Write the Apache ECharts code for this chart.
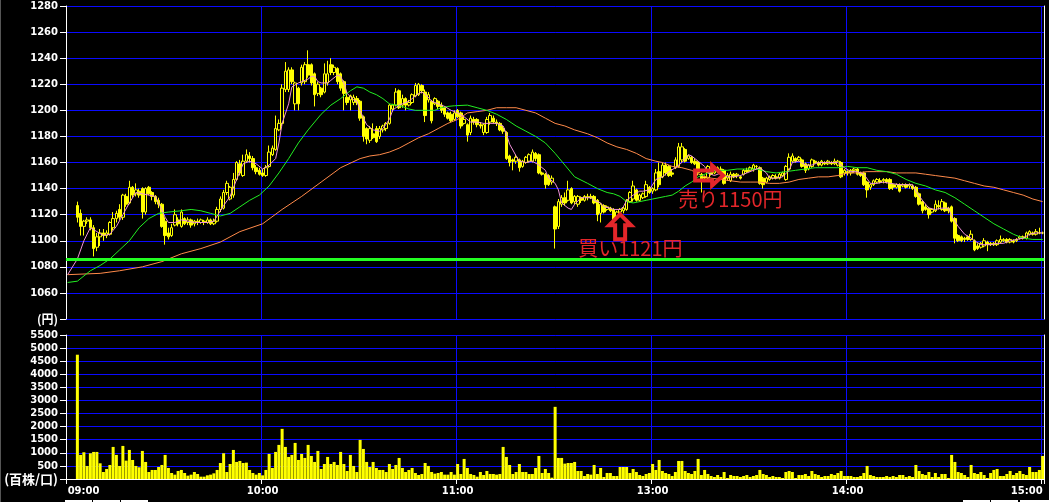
<!DOCTYPE html>
<html><head><meta charset="utf-8">
<script src="https://cdn.jsdelivr.net/npm/echarts@6/dist/echarts.min.js"></script>
<style>html,body{margin:0;padding:0;background:#000;overflow:hidden}#c{width:1049px;height:502px}</style>
</head><body><div id="c"></div>
<script>
// ---- tick labels / axis values ----
const tickLabels = ['09:00','10:00','11:00','13:00','14:00','15:00'];
const priceMin = 1040, priceMax = 1280, priceStep = 20;
const volMax = 5500, volStep = 500;
const baseLine = 1085.5;          // green horizontal line
const buyPoint = {idx: 170, price: 1121, text: '買い1121円'};
const sellPoint = {idx: 202, price: 1150, text: '売り1150円'};

// ---- categories: 1-minute slots, 09:00-11:29 and 12:30-15:00 ----
function hm(m){const h=Math.floor(m/60),mm=m%60;return (h<10?'0':'')+h+':'+(mm<10?'0':'')+mm;}
const categories = [];
for (let m = 540; m < 690; m++) categories.push(hm(m));
for (let m = 750; m <= 900; m++) categories.push(hm(m));

// ---- candles [open, close, low, high] ----
const ohlc = [
null,null,null,
[1127,1118,1114,1130],[1121,1111,1104,1124],[1111,1115,1104,1116],[1115,1116,1113,1118],[1116,1110,1108,1118],
[1110,1094,1088,1112],[1095,1103,1092,1106],[1103,1106,1096,1109],[1106,1104,1100,1109],[1104,1106,1102,1108],
[1105,1114,1104,1115],[1110,1117,1108,1122],[1117,1121,1114,1123],[1124,1118,1116,1128],[1118,1135,1116,1136],
[1134,1128,1126,1136],[1129,1141,1128,1146],[1141,1135,1133,1142],[1136,1139,1134,1144],[1138,1135,1133,1140],
[1140,1122,1117,1141],[1122,1140,1120,1141],[1141,1136,1135,1142],[1137,1134,1131,1138],[1134,1130,1128,1135],
[1131,1128,1125,1133],[1128,1111,1110,1129],[1115,1104,1097,1118],[1106,1103,1101,1110],[1104,1110,1103,1113],
[1112,1120,1111,1124],[1116,1113,1111,1118],[1111,1122,1110,1124],[1117,1113,1112,1118],[1114,1116,1112,1118],
[1116,1112,1110,1117],[1113,1115,1111,1116],[1115,1114,1112,1117],[1114,1116,1113,1117],[1115,1114,1112,1116],
[1114,1116,1113,1118],[1116,1113,1112,1117],[1113,1115,1112,1117],[1115,1124,1114,1126],[1124,1132,1122,1134],
[1125,1137,1124,1139],[1137,1144,1135,1146],[1132,1141,1131,1142],[1135,1147,1133,1152],[1147,1160,1146,1161],
[1159,1152,1150,1162],[1150,1161,1149,1166],[1161,1166,1160,1170],[1165,1163,1160,1168],[1163,1156,1154,1165],
[1156,1153,1151,1158],[1154,1151,1150,1156],[1152,1150,1149,1155],[1150,1156,1149,1158],[1157,1168,1156,1173],
[1166,1171,1165,1173],[1170,1186,1169,1196],[1185,1190,1184,1193],[1190,1217,1188,1220],[1216,1230,1214,1237],
[1216,1231,1214,1233],[1231,1222,1220,1233],[1205,1221,1200,1222],[1217,1205,1200,1218],[1221,1233,1219,1235],
[1222,1235,1220,1237],[1235,1227,1225,1246],[1235,1221,1219,1236],[1228,1212,1203,1229],[1213,1220,1211,1222],
[1217,1212,1210,1218],[1214,1228,1213,1236],[1221,1228,1219,1238],[1235,1229,1227,1240],[1229,1233,1227,1235],
[1232,1222,1220,1233],[1228,1217,1215,1229],[1222,1213,1200,1223],[1210,1206,1204,1214],[1208,1211,1200,1212],
[1206,1210,1204,1212],[1209,1206,1204,1211],[1207,1194,1192,1208],[1195,1180,1176,1196],[1186,1178,1174,1187],
[1177,1186,1175,1188],[1182,1179,1178,1190],[1186,1176,1175,1188],[1180,1186,1178,1188],[1185,1188,1183,1189],
[1186,1190,1184,1191],[1190,1204,1189,1205],[1201,1204,1199,1205],[1204,1214,1203,1217],[1215,1202,1201,1216],
[1204,1209,1202,1212],[1209,1204,1200,1210],[1204,1206,1203,1208],[1206,1212,1205,1213],[1211,1219,1210,1221],
[1212,1220,1211,1221],[1219,1215,1213,1220],[1214,1196,1191,1216],[1208,1212,1206,1214],[1207,1192,1190,1208],
[1205,1209,1204,1210],[1207,1203,1201,1208],[1204,1200,1198,1206],[1202,1197,1195,1203],[1198,1194,1193,1199],
[1197,1192,1191,1199],[1193,1198,1192,1200],[1200,1195,1194,1201],[1198,1188,1186,1199],[1190,1193,1189,1195],
[1189,1181,1176,1190],[1183,1194,1181,1196],[1193,1191,1189,1195],[1193,1189,1187,1194],[1189,1188,1186,1191],
[1183,1189,1181,1190],[1183,1193,1182,1195],[1191,1196,1189,1198],[1194,1191,1190,1196],[1191,1190,1188,1193],
[1190,1185,1184,1191],[1186,1184,1182,1188],[1183,1163,1162,1184],[1165,1160,1157,1166],[1162,1161,1154,1163],
[1161,1164,1159,1166],[1162,1156,1153,1163],[1157,1161,1156,1162],[1160,1164,1159,1165],[1161,1166,1160,1167],
[1161,1168,1160,1170],[1167,1163,1161,1168],[1166,1152,1151,1167],[1152,1151,1150,1153],[1151,1143,1140,1152],
[1150,1143,1142,1151],[1145,1148,1143,1150],
[1126,1109,1094,1127],[1111,1130,1109,1132],[1128,1133,1126,1135],[1133,1129,1127,1137],[1131,1139,1130,1146],
[1140,1129,1128,1141],[1130,1134,1128,1135],[1128,1134,1126,1135],[1133,1131,1129,1134],[1131,1134,1130,1135],
[1133,1134,1131,1136],[1134,1133,1132,1136],[1134,1129,1128,1135],[1131,1120,1115,1132],[1121,1128,1114,1129],
[1127,1122,1121,1128],[1124,1126,1123,1127],[1125,1123,1122,1126],[1124,1116,1115,1125],[1118,1122,1116,1123],
[1122,1124,1120,1125],[1123,1125,1121,1126],[1124,1131,1123,1132],[1130,1137,1129,1138],[1132,1142,1130,1146],
[1139,1131,1130,1140],[1131,1135,1130,1136],[1133,1136,1132,1137],[1134,1143,1133,1146],[1141,1137,1136,1142],
[1138,1140,1136,1141],[1139,1152,1138,1155],[1153,1143,1141,1160],[1149,1158,1148,1160],[1158,1152,1150,1160],
[1157,1150,1149,1158],[1152,1151,1149,1155],[1156,1162,1155,1164],[1157,1172,1156,1175],[1162,1172,1160,1175],
[1170,1161,1160,1171],[1163,1165,1162,1166],[1164,1160,1159,1165],[1161,1159,1158,1163],[1160,1152,1150,1161],
[1151,1147,1137,1152],[1149,1148,1146,1150],[1148,1157,1147,1158],[1155,1151,1150,1156],[1152,1154,1151,1155],
[1153,1156,1152,1157],[1155,1153,1152,1157],[1154,1144,1143,1155],[1148,1150,1146,1152],[1146,1151,1145,1153],
[1151,1149,1148,1152],[1150,1151,1148,1152],[1149,1148,1147,1150],[1151,1154,1150,1155],[1154,1153,1152,1156],
[1154,1156,1153,1157],[1155,1158,1153,1159],[1157,1157,1155,1158],[1156,1144,1143,1157],[1148,1143,1140,1149],
[1145,1148,1144,1149],[1147,1149,1146,1150],[1148,1150,1147,1151],[1149,1148,1147,1151],[1148,1151,1147,1152],
[1150,1152,1149,1153],[1147,1157,1146,1158],[1155,1164,1154,1167],[1161,1165,1160,1167],[1163,1161,1160,1164],
[1162,1164,1161,1165],[1162,1157,1156,1163],[1159,1154,1152,1160],[1155,1158,1154,1159],[1157,1162,1156,1163],
[1161,1160,1159,1162],[1160,1158,1157,1161],[1158,1161,1157,1162],[1160,1159,1158,1161],[1159,1161,1158,1162],
[1160,1159,1158,1161],[1159,1161,1158,1163],[1158,1161,1157,1162],[1160,1149,1148,1161],[1152,1154,1150,1155],
[1153,1152,1150,1154],[1152,1154,1150,1155],[1154,1155,1152,1156],[1155,1151,1150,1156],[1152,1150,1149,1153],
[1152,1143,1142,1153],[1145,1139,1133,1146],[1141,1143,1139,1144],[1143,1146,1142,1147],[1145,1147,1144,1148],
[1146,1145,1144,1148],[1146,1147,1144,1148],[1147,1145,1144,1148],[1147,1140,1139,1148],[1143,1141,1139,1144],
[1141,1143,1140,1144],[1143,1138,1137,1144],[1142,1143,1141,1144],[1143,1141,1140,1144],[1142,1143,1140,1144],
[1142,1140,1139,1143],[1141,1134,1133,1142],[1136,1128,1127,1137],[1130,1123,1121,1131],[1126,1124,1123,1128],
[1125,1120,1117,1126],[1122,1124,1121,1125],[1123,1128,1122,1131],[1127,1126,1124,1131],[1124,1130,1123,1132],
[1129,1123,1122,1130],[1125,1123,1121,1126],[1126,1115,1114,1127],[1117,1102,1098,1118],[1104,1100,1099,1105],
[1103,1100,1099,1104],[1102,1101,1099,1103],[1103,1101,1100,1104],[1101,1105,1100,1108],[1100,1093,1092,1101],
[1096,1094,1093,1098],[1095,1098,1094,1099],[1096,1100,1095,1102],[1099,1097,1092,1100],[1098,1097,1096,1099],
[1097,1098,1096,1099],[1097,1100,1096,1101],[1099,1101,1098,1104],[1100,1101,1099,1102],[1101,1099,1098,1102],
[1099,1101,1098,1102],[1100,1099,1098,1101],[1100,1101,1099,1102],[1102,1103,1101,1104],[1103,1102,1101,1104],
[1102,1106,1101,1107],[1105,1107,1104,1108],[1106,1105,1104,1107],[1105,1107,1104,1109],[1106,1106,1105,1110],
[1106,1106,1105,1107]
];

// ---- volume (百株) ----
const volume = [
0,0,0,
4747,919,1021,498,983,1034,1034,600,268,383,
536,1225,919,498,1263,702,1110,727,498,447,
1072,651,268,345,345,459,536,919,421,230,
166,306,345,230,128,166,268,191,89,89,
140,166,217,345,612,983,268,574,1110,651,
689,612,625,345,230,166,230,140,345,957,
421,1034,1302,1914,1225,842,919,1378,727,957,
804,1302,880,651,1072,383,574,842,574,651,
536,1034,574,306,919,498,268,1493,1148,651,
459,651,421,345,345,268,574,383,536,804,
421,268,345,421,230,153,191,612,498,268,
204,230,268,166,166,268,166,
574,191,766,421,191,153,89,268,153,306,191,191,166,191,1225,842,536,191,268,574,268,268,191,191,421,880,230,383,230,51,
2756,
804,804,587,612,612,651,306,306,115,191,166,536,191,421,77,230,230,115,115,459,459,459,230,383,268,153,115,191,230,574,
345,727,306,230,191,115,268,689,689,306,
230,191,306,766,153,345,191,115,77,153,
77,268,38,153,115,115,77,115,153,77,
115,153,345,191,153,77,115,77,77,38,
268,306,268,38,153,153,191,115,306,191,
153,77,115,115,191,153,230,306,115,115,
115,77,77,115,230,498,153,115,77,77,
77,115,77,115,77,153,153,77,115,77,
536,306,191,153,268,77,230,77,191,191,
38,919,651,268,230,153,77,536,230,191,
268,153,38,230,345,383,115,115,191,306,
153,230,306,191,153,459,268,268,345,880
];

// ---- moving averages: [slot index, price] ----
const maShort = [[0,1074],[3,1086],[5,1100],[7,1110],[9,1107],[11,1104],[13,1105],[15,1111],[17,1120],[19,1129],[21,1137],[23,1136],[25,1135],[27,1134],[28,1129],[30,1118],[31,1114],[33,1114],[35,1116],[37,1115],[39,1114],[43,1114],[45,1115],[46,1119],[48,1127],[50,1134],[52,1147],[54,1159],[56,1161],[58,1159],[60,1155],[62,1158],[64,1163],[65,1175],[66,1190],[68,1205],[69,1218],[71,1221],[72,1222],[74,1224],[75,1226],[76,1226],[77,1222],[78,1221],[80,1221],[81,1223],[83,1227],[84,1226],[85,1221],[86,1213],[88,1208],[89,1207],[90,1200],[91,1194],[92,1189],[94,1185],[96,1184],[97,1186],[99,1193],[100,1200],[102,1204],[103,1205],[105,1207],[106,1209],[108,1213],[109,1214],[111,1210],[112,1207],[114,1205],[116,1203],[118,1200],[120,1198],[122,1195],[124,1191],[126,1191],[128,1190],[130,1190],[132,1190],[134,1188],[135,1182],[136,1174],[138,1165],[139,1161],[141,1160],[143,1161],[145,1158],[147,1154],[148,1148],[150,1144],[151,1139],[152,1129],[154,1125],[155,1124],[156,1128],[158,1133],[159,1133],[161,1133],[162,1131],[164,1129],[165,1126],[167,1125],[168,1124],[170,1124],[171,1126],[172,1131],[174,1135],[176,1138],[177,1138],[179,1139],[181,1147],[183,1149],[185,1153],[187,1156],[189,1160],[191,1166],[192,1165],[194,1161],[196,1157],[197,1152],[199,1150],[201,1152],[203,1149],[205,1149],[207,1150],[209,1152],[211,1154],[213,1156],[215,1152],[216,1148],[218,1148],[220,1149],[222,1154],[223,1160],[225,1161],[227,1158],[229,1158],[231,1160],[234,1160],[237,1160],[239,1156],[241,1153],[243,1153],[245,1151],[247,1144],[249,1144],[251,1145],[253,1144],[256,1143],[258,1143],[260,1143],[261,1138],[263,1131],[265,1125],[267,1124],[269,1125],[271,1125],[272,1119],[274,1111],[276,1105],[278,1102],[279,1100],[281,1097],[282,1097],[284,1097],[286,1098],[288,1098],[290,1100],[292,1101],[294,1102],[296,1105],[298,1106],[300,1106]];
const maMid = [[0,1068],[3,1069],[7,1077],[10,1081],[13,1086],[16,1093],[19,1100],[22,1110],[25,1117],[28,1121],[31,1122],[35,1123],[38,1124],[41,1123],[44,1121],[47,1119],[50,1121],[53,1126],[56,1131],[59,1135],[62,1142],[65,1152],[68,1163],[71,1175],[74,1185],[78,1197],[81,1204],[84,1209],[87,1215],[89,1218],[91,1217],[93,1214],[95,1212],[97,1209],[99,1205],[101,1204],[103,1203],[105,1201],[107,1200],[109,1200],[111,1200],[113,1200],[115,1202],[117,1203],[119,1203.5],[123,1204],[126,1202],[129,1200],[132,1197],[135,1193],[138,1188],[141,1184],[144,1180],[147,1175],[150,1167],[153,1158],[156,1149],[160,1144],[163,1140],[166,1137],[168,1136],[170,1134],[172,1130],[174,1129],[176,1130],[178,1131],[180,1132],[182,1133],[184,1134],[186,1135],[188,1138],[190,1142],[192,1145],[194,1149],[197,1152],[200,1154],[203,1154],[206,1155],[209,1155],[212,1155],[215,1153],[218,1152],[221,1153],[224,1154],[227,1155],[230,1156],[233,1156],[237,1156],[240,1157],[243,1156],[246,1156],[249,1154],[252,1153],[255,1151],[258,1147],[261,1144],[264,1142],[267,1139],[270,1137],[273,1133],[276,1128],[279,1123],[282,1118],[285,1113],[288,1109],[291,1105],[294,1102],[297,1101],[300,1101]];
const maLong = [[0,1074],[10,1075],[16,1077],[23,1080],[29,1084],[35,1090],[41,1094],[47,1099],[53,1107],[60,1113],[66,1124],[72,1134],[78,1145],[84,1156],[90,1163],[93,1165],[96,1166],[99,1168],[102,1171],[105,1175],[108,1179],[111,1182],[114,1186],[117,1190],[120,1193],[123,1198],[126,1199],[129,1200],[132,1202],[135,1202],[138,1202],[141,1200],[144,1198],[147,1194],[150,1190],[153,1188],[156,1185],[160,1182],[163,1179],[166,1175],[169,1172],[172,1170],[175,1167],[178,1163],[181,1161],[183,1160],[186,1157],[189,1156],[192,1154],[195,1150],[198,1148],[201,1147],[204,1146],[207,1145],[210,1145],[213,1145],[216,1144],[219,1144],[222,1145],[225,1147],[228,1148],[231,1149],[234,1149],[237,1150],[240,1152],[243,1152],[246,1153],[249,1153],[252,1153],[255,1152],[258,1152],[261,1152],[264,1151],[267,1150],[270,1149],[273,1148],[276,1146],[279,1144],[282,1142],[285,1141],[288,1139],[291,1137],[294,1135],[297,1132],[300,1130]];

// ---- chart ----
const BLUE = '#0a0aff', WHITE = '#ffffff', YEL = '#ffff00';
const isTick = (i) => tickLabels.indexOf(categories[i]) >= 0;
const lastIdx = categories.length - 1;
const catItems = categories.map((c, i) => i === 0 ? {value: c, textStyle: {align: 'left'}}
  : (i === lastIdx ? {value: c, textStyle: {align: 'right'}} : c));
const labelFont = {color: WHITE, fontFamily: 'DejaVu Sans', fontWeight: 'bold', fontSize: 10};
const PLOT_W = 978.25; // 301 slots of 3.25 px

const chart = echarts.init(document.getElementById('c'), null, {renderer: 'canvas'});
const option = {
  backgroundColor: '#000',
  animation: false,
  grid: [
    {left: 66, top: 6, width: PLOT_W, height: 313},
    {left: 66, top: 335, width: PLOT_W, height: 144}
  ],
  xAxis: [
    {type: 'category', gridIndex: 0, data: categories, boundaryGap: true,
     axisLine: {show: false}, axisTick: {show: false}, axisLabel: {show: false},
     splitLine: {show: true, interval: isTick, lineStyle: {color: BLUE, width: 1}}},
    {type: 'category', gridIndex: 1, data: catItems, boundaryGap: true,
     axisLine: {show: true, lineStyle: {color: WHITE, width: 1}},
     axisTick: {show: true, interval: isTick, length: 5, lineStyle: {color: WHITE}},
     axisLabel: Object.assign({interval: isTick, margin: 7}, labelFont),
     splitLine: {show: true, interval: isTick, lineStyle: {color: BLUE, width: 1}}}
  ],
  yAxis: [
    {type: 'value', gridIndex: 0, min: priceMin, max: priceMax, interval: priceStep,
     axisLine: {show: true, lineStyle: {color: WHITE}},
     axisTick: {show: true, length: 6, lineStyle: {color: WHITE}},
     axisLabel: Object.assign({margin: 8, formatter: v => v === priceMin ? '{u|(円)}' : String(v),
       rich: {u: {color: WHITE, fontFamily: 'Noto Sans CJK JP', fontWeight: 'bold', fontSize: 12}}}, labelFont),
     splitLine: {show: true, lineStyle: {color: BLUE, width: 1}}},
    {type: 'value', gridIndex: 1, min: 0, max: volMax, interval: volStep,
     axisLine: {show: true, lineStyle: {color: WHITE}},
     axisTick: {show: true, length: 6, lineStyle: {color: WHITE}},
     axisLabel: Object.assign({margin: 8, formatter: v => v === 0 ? '{u|(百株/口)}' : String(v),
       rich: {u: {color: WHITE, fontFamily: 'Noto Sans CJK JP', fontWeight: 'bold', fontSize: 13}}}, labelFont),
     splitLine: {show: true, lineStyle: {color: BLUE, width: 1}}},
    {type: 'value', gridIndex: 0, position: 'right', min: priceMin, max: priceMax,
     axisLine: {show: true, lineStyle: {color: WHITE}}, axisTick: {show: false}, axisLabel: {show: false}, splitLine: {show: false}},
    {type: 'value', gridIndex: 1, position: 'right', min: 0, max: volMax,
     axisLine: {show: true, lineStyle: {color: WHITE}}, axisTick: {show: false}, axisLabel: {show: false}, splitLine: {show: false}}
  ],
  series: [
    {type: 'candlestick', xAxisIndex: 0, yAxisIndex: 0, barWidth: 3,
     data: ohlc.map(d => d ? d : ['-', '-', '-', '-']),
     itemStyle: {color: '#000', color0: YEL, borderColor: YEL, borderColor0: YEL, borderColorDoji: YEL, borderWidth: 1},
     markLine: {silent: true, symbol: ['none', 'none'], label: {show: false},
       lineStyle: {color: '#22ff22', width: 3, type: 'solid'}, data: [{yAxis: baseLine}]}},
    {type: 'line', xAxisIndex: 0, yAxisIndex: 0, data: maLong, symbol: 'none',
     lineStyle: {color: '#ff8a4a', width: 1}},
    {type: 'line', xAxisIndex: 0, yAxisIndex: 0, data: maMid, symbol: 'none',
     lineStyle: {color: '#22ee22', width: 1}},
    {type: 'line', xAxisIndex: 0, yAxisIndex: 0, data: maShort, symbol: 'none',
     lineStyle: {color: '#f090d8', width: 1}},
    {type: 'bar', xAxisIndex: 1, yAxisIndex: 1, data: volume, barWidth: 3,
     itemStyle: {color: YEL}}
  ]
};
chart.setOption(option);

// ---- annotations anchored to data coordinates ----
const RED = '#e4262a';
const b = chart.convertToPixel({xAxisIndex: 0, yAxisIndex: 0}, [buyPoint.idx, buyPoint.price]);
const s = chart.convertToPixel({xAxisIndex: 0, yAxisIndex: 0}, [sellPoint.idx, sellPoint.price]);
const bx = b[0], by = b[1] + 1, sx = s[0] - 1, sy = s[1];
chart.setOption({graphic: [
  {type: 'polygon', z: 100, shape: {points: [[bx, by], [bx + 11, by + 11], [bx + 5, by + 11], [bx + 5, by + 25], [bx - 5, by + 25], [bx - 5, by + 11], [bx - 11, by + 11]]},
   style: {fill: 'none', stroke: RED, lineWidth: 4, lineJoin: 'miter'}},
  {type: 'polygon', z: 100, shape: {points: [[sx, sy], [sx - 11, sy - 10], [sx - 11, sy - 5], [sx - 28, sy - 5], [sx - 28, sy + 5], [sx - 11, sy + 5], [sx - 11, sy + 10]]},
   style: {fill: 'none', stroke: RED, lineWidth: 4, lineJoin: 'miter'}},
  {type: 'text', z: 100, style: {x: bx - 42, y: by + 34, text: buyPoint.text, fill: RED,
   font: '20px "Noto Sans CJK JP"', align: 'left', verticalAlign: 'middle'}},
  {type: 'text', z: 100, style: {x: sx - 45, y: sy + 24, text: sellPoint.text, fill: RED,
   font: '20px "Noto Sans CJK JP"', align: 'left', verticalAlign: 'middle'}},
  {type: 'rect', shape: {x: 0, y: 0, width: 1, height: 502}, style: {fill: '#555'}},
  {type: 'rect', shape: {x: 65, y: 500, width: 27, height: 2}, style: {fill: WHITE}},
  {type: 'rect', shape: {x: 93, y: 500, width: 27, height: 2}, style: {fill: WHITE}},
  {type: 'rect', shape: {x: 121, y: 500, width: 27, height: 2}, style: {fill: WHITE}},
  {type: 'rect', shape: {x: 963, y: 500, width: 27, height: 2}, style: {fill: WHITE}},
  {type: 'rect', shape: {x: 991, y: 500, width: 27, height: 2}, style: {fill: WHITE}},
  {type: 'rect', shape: {x: 1020, y: 500, width: 29, height: 2}, style: {fill: WHITE}}
]});
</script>
</body></html>
